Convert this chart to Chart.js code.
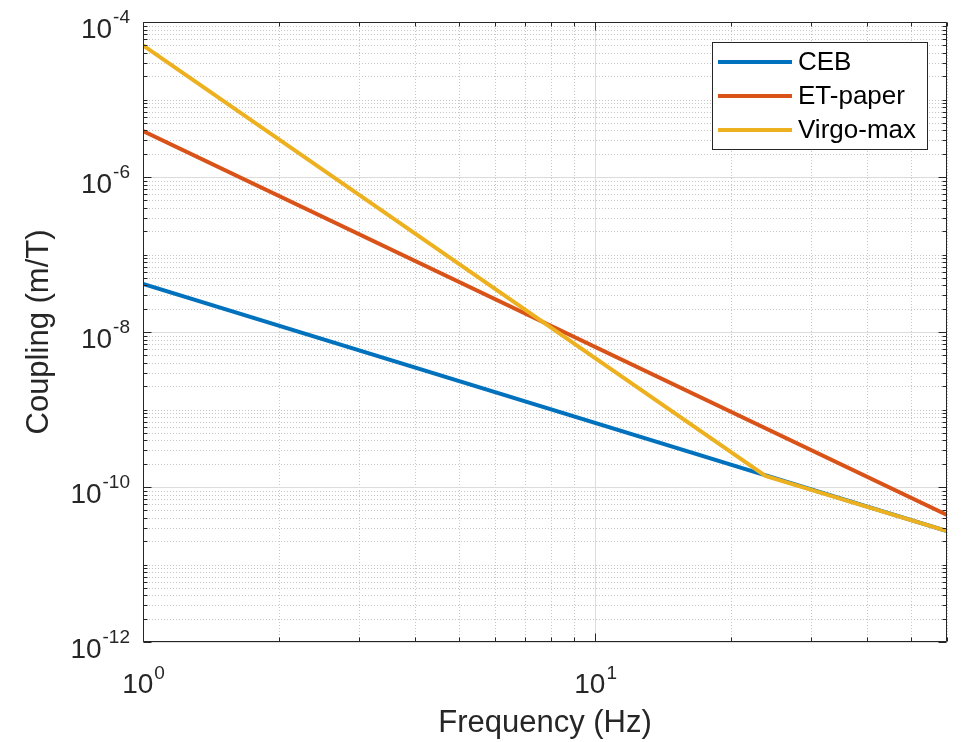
<!DOCTYPE html>
<html>
<head>
<meta charset="utf-8">
<script src="https://cdn.jsdelivr.net/npm/chart.js@4.4.1/dist/chart.umd.min.js"></script>
<style>
  html, body { margin: 0; padding: 0; background: #fff; }
</style>
</head>
<body>
<canvas id="chart" width="962" height="742"></canvas>
<script>
// series (log-log, straight segments)
const seriesNames = ['CEB', 'ET-paper', 'Virgo-max'];
const seriesColors = ['#0072BD', '#D95319', '#EDB120'];
const cebFreq = [1, 60];
const cebCoupling = [4.16e-8, 2.7e-11];
const etFreq = [1, 60];
const etCoupling = [3.93e-6, 4.35e-11];
const virgoFreq = [1, 23.8, 60];
const virgoCoupling = [5.0e-5, 1.39e-10, 2.7e-11];

// axis ranges and labelled decades
const xRange = [1, 60];
const yRange = [1e-12, 1e-4];
const xTickExps = [0, 1];
const yTickExps = [-12, -10, -8, -6, -4];

const FONT = '"Liberation Sans", Arial, Helvetica, sans-serif';
const INK = '#262626';

function toPoints(xs, ys) {
    return xs.map((f, i) => ({ x: f, y: ys[i] }));
}

// 1..9 x 10^n positions inside [lo, hi], used for the grid only
function decadeSteps(lo, hi) {
    const out = [];
    for (let e = Math.floor(Math.log10(lo)); Math.pow(10, e) <= hi * 1.0001; e++) {
        for (let m = 1; m < 10; m++) {
            const v = m * Math.pow(10, e);
            if (v >= lo * 0.9999 && v <= hi * 1.0001) out.push(v);
        }
    }
    return out;
}

const xMajor = xTickExps.map(e => Math.pow(10, e));
const yMajor = yTickExps.map(e => Math.pow(10, e));
const isMajor = (v, list) => list.some(m => Math.abs(v / m - 1) < 1e-6);
const xMinor = decadeSteps(xRange[0], xRange[1]).filter(v => !isMajor(v, xMajor));
const yMinor = decadeSteps(yRange[0], yRange[1]).filter(v => !isMajor(v, yMajor));

const matlabAxes = {
    id: 'matlabAxes',
    beforeDatasetsDraw(chart) {
        const { ctx, chartArea: a, scales: { x, y } } = chart;
        ctx.save();
        ctx.lineWidth = 1;
        // minor dotted grid
        ctx.strokeStyle = '#c6c6c6';
        ctx.setLineDash([1, 2]);
        ctx.beginPath();
        xMinor.forEach(v => {
            const px = Math.round(x.getPixelForValue(v)) + 0.5;
            ctx.moveTo(px, a.top); ctx.lineTo(px, a.bottom);
        });
        yMinor.forEach(v => {
            const py = Math.round(y.getPixelForValue(v)) + 0.5;
            ctx.moveTo(a.left, py); ctx.lineTo(a.right, py);
        });
        ctx.stroke();
        // major solid grid
        ctx.setLineDash([]);
        ctx.strokeStyle = '#dcdcdc';
        ctx.beginPath();
        xMajor.forEach(v => {
            const px = Math.round(x.getPixelForValue(v)) + 0.5;
            ctx.moveTo(px, a.top); ctx.lineTo(px, a.bottom);
        });
        yMajor.forEach(v => {
            const py = Math.round(y.getPixelForValue(v)) + 0.5;
            ctx.moveTo(a.left, py); ctx.lineTo(a.right, py);
        });
        ctx.stroke();
        ctx.restore();
    },
    afterDatasetsDraw(chart) {
        const { ctx, chartArea: a, scales: { x, y } } = chart;
        const L = Math.round(a.left) + 0.5, R = Math.round(a.right) - 0.5;
        const T = Math.round(a.top) + 0.5, B = Math.round(a.bottom) - 0.5;
        ctx.save();
        ctx.strokeStyle = INK;
        ctx.lineWidth = 1;
        ctx.beginPath();
        const xTick = (v, len) => {
            const px = Math.round(x.getPixelForValue(v)) + 0.5;
            ctx.moveTo(px, B); ctx.lineTo(px, B - len);
            ctx.moveTo(px, T); ctx.lineTo(px, T + len);
        };
        const yTick = (v, len) => {
            const py = Math.round(y.getPixelForValue(v)) + 0.5;
            ctx.moveTo(L, py); ctx.lineTo(L + len, py);
            ctx.moveTo(R, py); ctx.lineTo(R - len, py);
        };
        xMinor.forEach(v => xTick(v, 4));
        xMajor.forEach(v => xTick(v, 8));
        yMinor.forEach(v => yTick(v, 4));
        yMajor.forEach(v => yTick(v, 8));
        ctx.rect(L, T, R - L, B - T);
        ctx.stroke();

        // legend
        const box = { l: 712, t: 42, r: 928, b: 150 };
        ctx.fillStyle = '#fff';
        ctx.fillRect(box.l, box.t, box.r - box.l, box.b - box.t);
        ctx.strokeRect(box.l + 0.5, box.t + 0.5, box.r - box.l - 1, box.b - box.t - 1);
        ctx.font = '26px ' + FONT;
        ctx.textBaseline = 'middle';
        ctx.textAlign = 'left';
        chart.data.datasets.forEach((ds, i) => {
            const ly = 62 + i * 34;
            ctx.strokeStyle = ds.borderColor;
            ctx.lineWidth = 4;
            ctx.beginPath();
            ctx.moveTo(718, ly); ctx.lineTo(792, ly);
            ctx.stroke();
            ctx.fillStyle = '#000';
            ctx.fillText(ds.label, 798, ly + 1);
        });
        ctx.restore();
    },
    afterDraw(chart) {
        const { ctx, chartArea: a, scales: { x, y } } = chart;
        ctx.save();
        ctx.fillStyle = INK;
        ctx.textBaseline = 'alphabetic';
        ctx.textAlign = 'left';
        const baseFont = '28px ' + FONT, expFont = '19px ' + FONT;
        const measure = (exp) => {
            ctx.font = baseFont; const wb = ctx.measureText('10').width;
            ctx.font = expFont; const we = ctx.measureText(String(exp)).width;
            return [wb, we];
        };
        xTickExps.forEach(e => {
            const px = x.getPixelForValue(Math.pow(10, e));
            const [wb, we] = measure(e);
            const sx = px - (wb + we) / 2;
            ctx.font = baseFont; ctx.fillText('10', sx, 693);
            ctx.font = expFont; ctx.fillText(String(e), sx + wb + 1, 679);
        });
        yTickExps.forEach(e => {
            const py = y.getPixelForValue(Math.pow(10, e));
            const [wb, we] = measure(e);
            const ex = a.left - 13;
            ctx.font = expFont; ctx.fillText(String(e), ex - we, py + 1);
            ctx.font = baseFont; ctx.fillText('10', ex - we - wb - 1, py + 16);
        });
        ctx.restore();
    }
};

const datasets = [
    { label: seriesNames[0], data: toPoints(cebFreq, cebCoupling), borderColor: seriesColors[0], order: 2 },
    { label: seriesNames[1], data: toPoints(etFreq, etCoupling), borderColor: seriesColors[1], order: 1 },
    { label: seriesNames[2], data: toPoints(virgoFreq, virgoCoupling), borderColor: seriesColors[2], order: 0 }
].map(ds => ({ ...ds, borderWidth: 4, pointRadius: 0, tension: 0, fill: false }));

new Chart(document.getElementById('chart'), {
    type: 'line',
    data: { datasets },
    options: {
        responsive: false,
        animation: false,
        devicePixelRatio: 1,
        layout: { padding: { top: 22, right: 15, left: 0, bottom: 0 } },
        plugins: { legend: { display: false }, tooltip: { enabled: false } },
        scales: {
            x: {
                type: 'logarithmic',
                min: xRange[0],
                max: xRange[1],
                grid: { display: false },
                border: { display: false },
                ticks: { display: false },
                title: { display: true, text: 'Frequency (Hz)', color: INK,
                         font: { family: FONT, size: 31 }, padding: { top: 3, bottom: 0 } },
                afterFit(scale) { scale.height = 100; }
            },
            y: {
                type: 'logarithmic',
                min: yRange[0],
                max: yRange[1],
                grid: { display: false },
                border: { display: false },
                ticks: { display: false },
                title: { display: true, text: 'Coupling (m/T)', color: INK,
                         font: { family: FONT, size: 31 }, padding: { top: 21, bottom: 0 } },
                afterFit(scale) { scale.width = 143; }
            }
        }
    },
    plugins: [matlabAxes]
});
</script>
</body>
</html>
